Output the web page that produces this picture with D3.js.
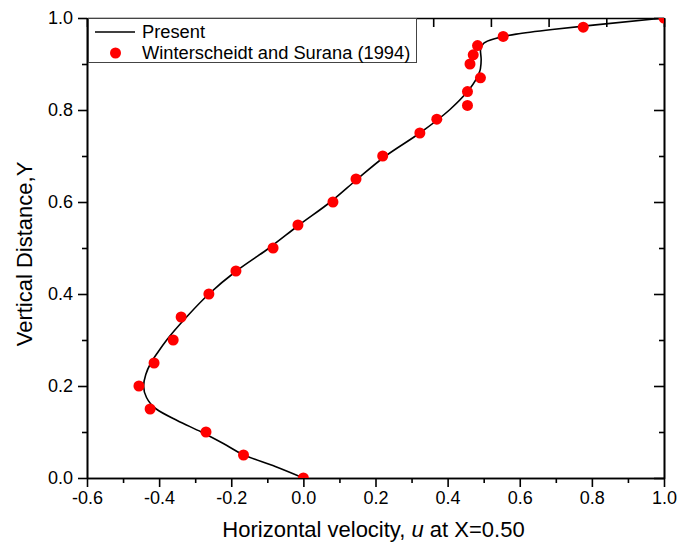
<!DOCTYPE html>
<html>
<head>
<meta charset="utf-8">
<script src="https://cdn.jsdelivr.net/npm/d3@7/dist/d3.min.js"></script>
<style>
  html, body { margin: 0; padding: 0; background: #fff; }
  svg { display: block; font-family: "Liberation Sans", Arial, sans-serif; }
</style>
</head>
<body>
<svg id="chart" width="678" height="548"></svg>
<script>
// Present solution: horizontal velocity u along the vertical centreline
const curveY = [0.00, 0.025, 0.05, 0.075, 0.10, 0.125, 0.15, 0.175, 0.20, 0.225, 0.25, 0.275, 0.30, 0.35, 0.40, 0.45, 0.50, 0.55, 0.60, 0.65, 0.70, 0.75, 0.80, 0.84, 0.87, 0.89, 0.91, 0.93, 0.945, 0.955, 0.965, 0.975, 0.985, 1.00];
const curveU = [0.000, -0.078, -0.165, -0.222, -0.283, -0.350, -0.408, -0.435, -0.443, -0.437, -0.423, -0.402, -0.379, -0.324, -0.262, -0.186, -0.095, -0.012, 0.075, 0.150, 0.228, 0.323, 0.405, 0.455, 0.481, 0.491, 0.493, 0.491, 0.500, 0.530, 0.590, 0.690, 0.810, 1.000];

// Winterscheidt and Surana (1994)
const refY = [0.00, 0.05, 0.10, 0.15, 0.20, 0.25, 0.30, 0.35, 0.40, 0.45, 0.50, 0.55, 0.60, 0.65, 0.70, 0.75, 0.78, 0.81, 0.84, 0.87, 0.90, 0.92, 0.94, 0.96, 0.98, 1.00];
const refU = [0.000, -0.166, -0.270, -0.425, -0.456, -0.414, -0.361, -0.339, -0.262, -0.187, -0.084, -0.015, 0.082, 0.146, 0.220, 0.323, 0.370, 0.455, 0.455, 0.491, 0.462, 0.471, 0.483, 0.554, 0.776, 1.000];

// Axis ticks
const xMajor = [-0.6, -0.4, -0.2, 0.0, 0.2, 0.4, 0.6, 0.8, 1.0];
const xMinor = [-0.5, -0.3, -0.1, 0.1, 0.3, 0.5, 0.7, 0.9];
const yMajor = [0.0, 0.2, 0.4, 0.6, 0.8, 1.0];
const yMinor = [0.1, 0.3, 0.5, 0.7, 0.9];
const xTopTicks = [-0.6, -0.44, -0.28, -0.12, 0.04, 0.2, 0.36, 0.52, 0.68, 0.84, 1.0];

const legendLabels = ["Present", "Winterscheidt and Surana (1994)"];

const svg = d3.select("#chart");
const L = 87, R = 664, T = 18, B = 478;

const x = d3.scaleLinear().domain([-0.6, 1.0]).range([L, R]);
const y = d3.scaleLinear().domain([0, 1]).range([B, T]);

svg.append("defs").append("clipPath").attr("id", "plotClip")
  .append("rect").attr("x", L).attr("y", T).attr("width", R - L).attr("height", B - T);

// plain hyphen for negative labels
const fmt = d => d3.format(".1f")(d).replace("\u2212", "-");

function styleAxis(g) {
  g.attr("font-size", null).attr("font-family", null);
  g.select(".domain").attr("stroke", "#000").attr("stroke-width", 1.6);
  g.selectAll(".tick line").attr("stroke", "#000").attr("stroke-width", 1.6);
  g.selectAll(".tick text").attr("fill", "#000").style("font-size", "18px")
    .style("font-family", "'Liberation Sans', Arial, sans-serif");
}

// bottom axis
svg.append("g").attr("transform", `translate(0,${B})`)
  .call(d3.axisBottom(x).tickValues(xMinor).tickSize(5).tickFormat("").tickSizeOuter(0))
  .call(styleAxis);
svg.append("g").attr("transform", `translate(0,${B})`)
  .call(d3.axisBottom(x).tickValues(xMajor).tickSize(9).tickPadding(4).tickFormat(fmt).tickSizeOuter(0))
  .call(styleAxis);

// left axis
svg.append("g").attr("transform", `translate(${L},0)`)
  .call(d3.axisLeft(y).tickValues(yMinor).tickSize(5).tickFormat("").tickSizeOuter(0))
  .call(styleAxis);
svg.append("g").attr("transform", `translate(${L},0)`)
  .call(d3.axisLeft(y).tickValues(yMajor).tickSize(9).tickPadding(5).tickFormat(fmt).tickSizeOuter(0))
  .call(styleAxis);

// top axis (ticks pointing inward)
svg.append("g").attr("transform", `translate(0,${T})`)
  .call(d3.axisBottom(x).tickValues(xTopTicks).tickSize(9).tickFormat("").tickSizeOuter(0))
  .call(styleAxis);

// right axis (ticks pointing inward)
svg.append("g").attr("transform", `translate(${R},0)`)
  .call(d3.axisLeft(y).tickValues(yMinor).tickSize(5).tickFormat("").tickSizeOuter(0))
  .call(styleAxis);
svg.append("g").attr("transform", `translate(${R},0)`)
  .call(d3.axisLeft(y).tickValues(yMajor).tickSize(10).tickFormat("").tickSizeOuter(0))
  .call(styleAxis);

// solution curve
const curveData = curveY.map((v, i) => ({ y: v, u: curveU[i] }));
svg.append("path")
  .datum(curveData)
  .attr("clip-path", "url(#plotClip)")
  .attr("fill", "none")
  .attr("stroke", "#000")
  .attr("stroke-width", 1.6)
  .attr("d", d3.line().x(d => x(d.u)).y(d => y(d.y)).curve(d3.curveMonotoneY));

// reference data points
const refData = refY.map((v, i) => ({ y: v, u: refU[i] }));
svg.append("g").attr("clip-path", "url(#plotClip)")
  .selectAll("circle").data(refData).join("circle")
  .attr("cx", d => x(d.u)).attr("cy", d => y(d.y)).attr("r", 5.5)
  .attr("fill", "#ff0000");

// legend
const lg = svg.append("g");
lg.append("rect").attr("x", 88.5).attr("y", T + 0.5).attr("width", 328).attr("height", 44)
  .attr("fill", "#fff").attr("stroke", "#444").attr("stroke-width", 1);
lg.append("line").attr("x1", 95).attr("x2", 135).attr("y1", 32).attr("y2", 32)
  .attr("stroke", "#000").attr("stroke-width", 1.6);
lg.append("circle").attr("cx", 115.5).attr("cy", 53).attr("r", 5.5).attr("fill", "#ff0000");
lg.selectAll("text").data(legendLabels).join("text")
  .attr("x", 142).attr("y", (d, i) => 38 + i * 21)
  .style("font-size", "18.3px").attr("fill", "#000")
  .text(d => d);

// axis titles
const xt = svg.append("text").attr("x", (L + R) / 2 - 2).attr("y", 537)
  .attr("text-anchor", "middle").style("font-size", "22px").attr("fill", "#000");
xt.append("tspan").text("Horizontal velocity, ");
xt.append("tspan").style("font-style", "italic").text("u");
xt.append("tspan").text(" at X=0.50");

svg.append("text")
  .attr("transform", `translate(32,${(T + B) / 2 + 6}) rotate(-90)`)
  .attr("text-anchor", "middle").style("font-size", "22px").attr("fill", "#000")
  .text("Vertical Distance,Y");
</script>
</body>
</html>
